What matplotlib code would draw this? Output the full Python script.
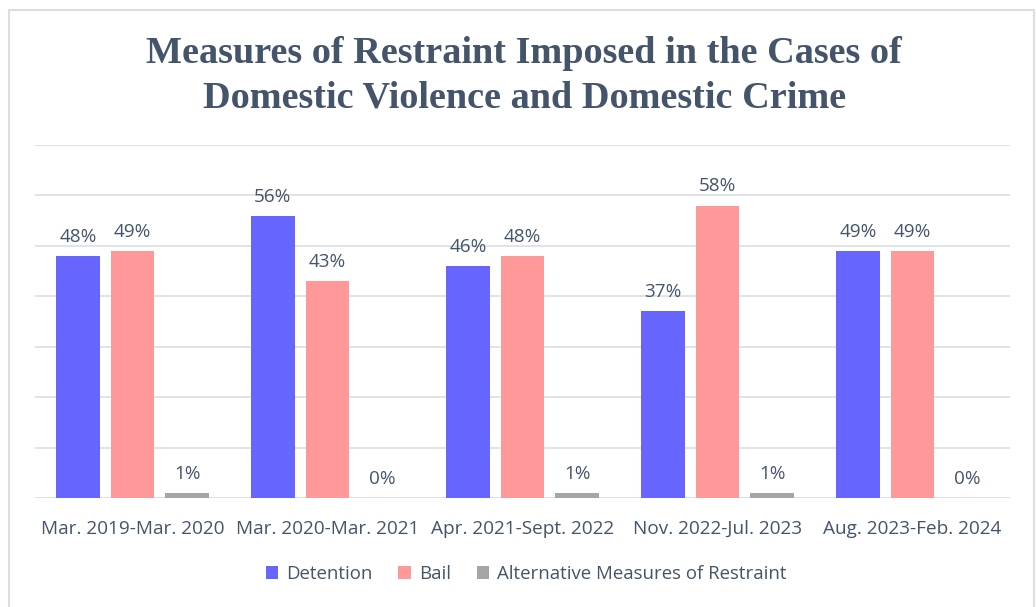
import matplotlib.pyplot as plt
import numpy as np
from matplotlib.patches import Rectangle

periods = ["Mar. 2019-Mar. 2020", "Mar. 2020-Mar. 2021", "Apr. 2021-Sept. 2022",
           "Nov. 2022-Jul. 2023", "Aug. 2023-Feb. 2024"]
detention = [48, 56, 46, 37, 49]
bail = [49, 43, 48, 58, 49]
alternative = [1, 0, 1, 1, 0]

txt = "#44546A"
plt.rcParams['font.family'] = ['Open Sans', 'DejaVu Sans']

fig = plt.figure(figsize=(10.36, 6.07), dpi=100)
ax = fig.add_axes([35/1036, 1 - 498/607, 975/1036, (498-145)/607])

x = np.arange(len(periods))
w = 0.222
step = 0.28
series = [("Detention", detention, "#6666FF"),
          ("Bail", bail, "#FF9999"),
          ("Alternative Measures of Restraint", alternative, "#A5A5A5")]
for i, (name, vals, col) in enumerate(series):
    bars = ax.bar(x + (i - 1) * step, vals, w, color=col, label=name, zorder=3)
    for b, v in zip(bars, vals):
        ax.text(b.get_x() + b.get_width() / 2, v + 2.0, f"{v}%", ha="center",
                va="bottom", fontsize=13.6, color=txt)

ax.set_xlim(-0.5, 4.5)
ax.set_ylim(0, 70)
ax.set_yticks(np.arange(0, 71, 10))
ax.yaxis.grid(True, color="#DDE2E8", linewidth=1.3, zorder=0)
ax.tick_params(axis="y", left=False, labelleft=False)
ax.tick_params(axis="x", length=0, pad=16, labelsize=13.7, labelcolor=txt)
ax.set_xticks(x)
ax.set_xticklabels(periods)
for s in ax.spines.values():
    s.set_visible(False)
ax.axhline(0, color="#DDE2E8", linewidth=1.5, zorder=1)

fig.suptitle("Measures of Restraint Imposed in the Cases of\nDomestic Violence and Domestic Crime",
             x=0.506, y=0.94, fontsize=27.5, fontweight="bold", color=txt,
             family="Liberation Serif", linespacing=1.34)

leg = fig.legend(loc="center", bbox_to_anchor=(0.508, 1 - 574/607), ncol=3,
                 frameon=False, fontsize=13.4, handlelength=0.65, handleheight=0.65,
                 columnspacing=1.4, handletextpad=0.45)
for t in leg.get_texts():
    t.set_color(txt)

fig.patches.append(Rectangle((9/1036, -0.01), 1025/1036, 1 - 10/607 + 0.01,
                             transform=fig.transFigure, fill=False,
                             edgecolor="#D9DEE5", linewidth=1.5))

fig.savefig("out.png", dpi=100)
